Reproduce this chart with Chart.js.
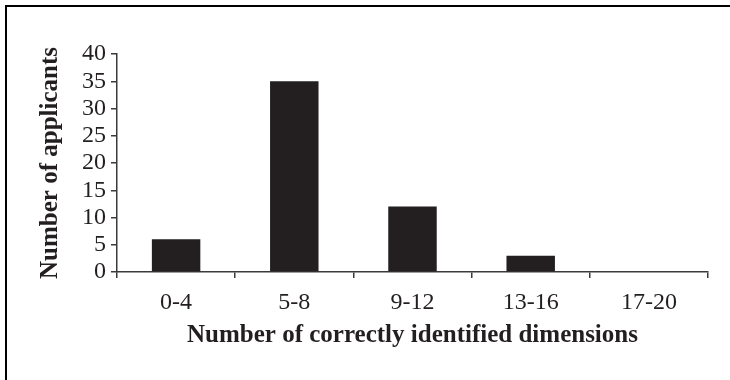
<!DOCTYPE html>
<html>
<head>
  <meta charset="UTF-8">
  <title>Number of applicants by correctly identified dimensions</title>
  <script src="https://cdn.jsdelivr.net/npm/chart.js@4"></script>
  <style>
    html, body { margin: 0; padding: 0; background: #fff; }
    #wrap { position: relative; width: 730px; height: 380px; overflow: hidden; }
    /* frame: only top and left edges are visible in the figure */
    #frame {
      position: absolute; left: 5px; top: 5px; width: 740px; height: 390px;
      border-top: 2px solid #000; border-left: 2px solid #000;
    }
    #chart { position: absolute; left: 0; top: 0; }
  </style>
</head>
<body>
  <div id="wrap">
    <div id="frame"></div>
    <canvas id="chart" width="730" height="380"></canvas>
  </div>

  <script>
    // data
    const categories = ['0-4', '5-8', '9-12', '13-16', '17-20'];
    const applicants = [6, 35, 12, 3, 0];
    const yTicks = [0, 5, 10, 15, 20, 25, 30, 35, 40];

    const xTitle = 'Number of correctly identified dimensions';
    const yTitle = 'Number of applicants';

    const serif = 'Liberation Serif, Times New Roman, serif';
    const axisColor = '#3a3a3a';

    const ctx = document.getElementById('chart').getContext('2d');
    new Chart(ctx, {
      type: 'bar',
      data: {
        labels: categories,
        datasets: [{
          data: applicants,
          backgroundColor: '#231f20',
          borderWidth: 0,
          barPercentage: 0.41,
          categoryPercentage: 1
        }]
      },
      options: {
        responsive: false,
        animation: false,
        layout: { padding: { top: 54, right: 22, left: 0, bottom: 0 } },
        plugins: {
          legend: { display: false },
          tooltip: { enabled: false }
        },
        scales: {
          x: {
            afterFit: (s) => { s.height = 108; },
            grid: {
              display: true,
              offset: true,
              drawOnChartArea: false,
              drawTicks: true,
              tickLength: 6,
              color: axisColor,
              lineWidth: 1.5
            },
            border: { display: true, color: axisColor, width: 1.5 },
            ticks: {
              color: '#231f20',
              font: { family: serif, size: 24 },
              padding: 10,
              maxRotation: 0,
              autoSkip: false
            },
            title: {
              display: true,
              text: xTitle,
              color: '#231f20',
              font: { family: serif, size: 25, weight: 'bold' },
              padding: { top: 0, bottom: 29 }
            }
          },
          y: {
            min: 0,
            max: 40,
            afterFit: (s) => { s.width = 117; },
            afterBuildTicks: (s) => { s.ticks = yTicks.map(v => ({ value: v })); },
            grid: {
              display: true,
              drawOnChartArea: false,
              drawTicks: true,
              tickLength: 6,
              color: axisColor,
              lineWidth: 1.5
            },
            border: { display: true, color: axisColor, width: 1.5 },
            ticks: {
              color: '#231f20',
              font: { family: serif, size: 24, lineHeight: 1 },
              padding: 5,
              autoSkip: false
            },
            title: {
              display: true,
              text: yTitle,
              color: '#231f20',
              font: { family: serif, size: 25, weight: 'bold' },
              padding: { top: 36, bottom: 0 }
            }
          }
        }
      }
    });
  </script>
</body>
</html>
